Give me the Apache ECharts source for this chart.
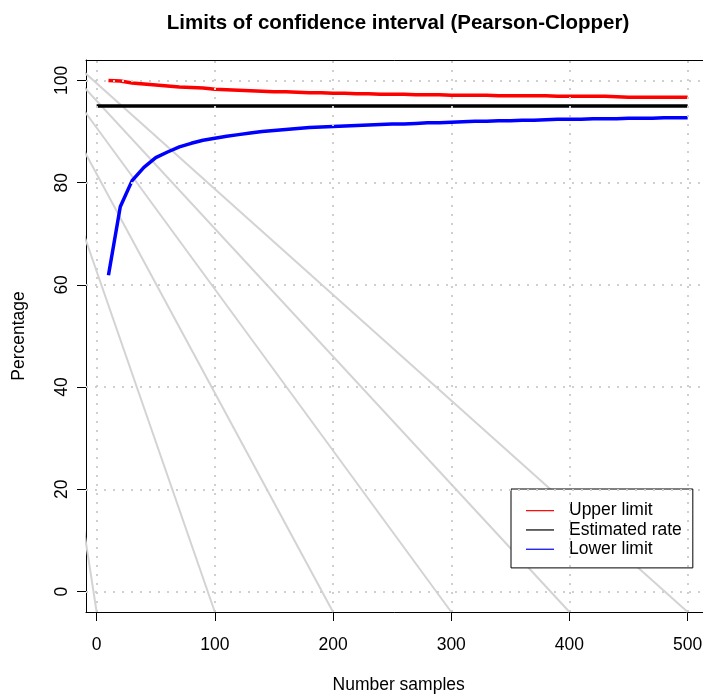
<!DOCTYPE html>
<html>
<head>
<meta charset="utf-8">
<script src="https://cdn.jsdelivr.net/npm/echarts@6/dist/echarts.min.js"></script>
<style>
  html, body { margin: 0; padding: 0; background: #fff; }
  #chart { width: 703px; height: 694px; }
</style>
</head>
<body>
<div id="chart"></div>
<script>
// Sample sizes and the Pearson-Clopper limits (percent) for an estimated rate of 95 %
const samples = [10, 20, 30, 40, 50, 60, 70, 80, 90, 100,
  110, 120, 130, 140, 150, 160, 170, 180, 190, 200,
  210, 220, 230, 240, 250, 260, 270, 280, 290, 300,
  310, 320, 330, 340, 350, 360, 370, 380, 390, 400,
  410, 420, 430, 440, 450, 460, 470, 480, 490, 500];
const upperLimit = [100.0, 99.9, 99.5, 99.3, 99.1, 98.9, 98.7, 98.6, 98.5, 98.3,
  98.2, 98.1, 98.0, 97.9, 97.8, 97.8, 97.7, 97.6, 97.6, 97.5,
  97.5, 97.4, 97.4, 97.3, 97.3, 97.3, 97.2, 97.2, 97.2, 97.1,
  97.1, 97.1, 97.1, 97.0, 97.0, 97.0, 97.0, 97.0, 96.9, 96.9,
  96.9, 96.9, 96.9, 96.8, 96.7, 96.7, 96.7, 96.7, 96.7, 96.7];
const lowerLimit = [61.9, 75.3, 80.4, 83.0, 84.9, 86.0, 87.0, 87.7, 88.3, 88.7,
  89.1, 89.4, 89.7, 90.0, 90.2, 90.4, 90.6, 90.8, 90.9, 91.0,
  91.1, 91.2, 91.3, 91.4, 91.5, 91.5, 91.6, 91.7, 91.7, 91.8,
  91.9, 92.0, 92.0, 92.1, 92.1, 92.2, 92.2, 92.3, 92.4, 92.4,
  92.4, 92.5, 92.5, 92.5, 92.6, 92.6, 92.6, 92.7, 92.7, 92.7];
const estimatedRate = 95;
const rateSpan = [0, 500];

// Background fan of light grey guide lines
const fanApex = [-80, 116];
const fanEnds = [0, 100, 200, 300, 400, 500];
const fanEndLevel = -4;

// Tick labels
const xTicks = [0, 100, 200, 300, 400, 500];
const yTicks = [0, 20, 40, 60, 80, 100];

const FONT = "'Liberation Sans', Arial, Helvetica, sans-serif";
const X_MIN = -9, X_MAX = 520;

const pairs = (xs, ys) => xs.map((x, i) => [x, ys[i]]);

const fanSeries = fanEnds.map(end => ({
  type: 'line',
  silent: true,
  showSymbol: false,
  z: 1,
  data: [fanApex, [end, fanEndLevel]],
  lineStyle: { color: '#d3d3d3', width: 2 },
  clip: true
}));

const dotted = { color: '#cfcfcf', width: 2, type: [2, 7], cap: 'butt' };
const black = { color: '#000', width: 1 };

const chart = echarts.init(document.getElementById('chart'), null, { renderer: 'canvas' });
chart.setOption({
  animation: false,
  backgroundColor: '#fff',
  textStyle: { fontFamily: FONT },
  title: {
    text: 'Limits of confidence interval (Pearson-Clopper)',
    left: 398,
    top: 13,
    padding: 0,
    textAlign: 'center',
    textStyle: { fontFamily: FONT, fontSize: 20.5, fontWeight: 'bold', color: '#000' }
  },
  // the frame runs past the right edge of the canvas
  grid: { left: 86, top: 60, width: 625.3, height: 552, outerBoundsMode: 'none', containLabel: false },
  legend: {
    orient: 'vertical',
    left: 511, top: 489,
    padding: [12, 11, 9, 15],
    itemWidth: 28, itemHeight: 1.2, itemGap: 0,
    icon: 'rect',
    backgroundColor: '#fff',
    borderColor: '#000', borderWidth: 1, borderRadius: 0,
    z: 3,
    selectedMode: false,
    data: ['Upper limit', 'Estimated rate', 'Lower limit'],
    textStyle: { fontFamily: FONT, fontSize: 17.5, color: '#000', lineHeight: 19.3, padding: [0, 0, 0, 10] }
  },
  xAxis: [
    {
      type: 'value', min: X_MIN, max: X_MAX, position: 'bottom',
      name: 'Number samples', nameLocation: 'middle', nameGap: 64,
      nameTextStyle: { fontFamily: FONT, fontSize: 17.5, color: '#000' },
      axisLine: { show: true, onZero: false, lineStyle: black },
      axisTick: { show: true, length: 9, customValues: xTicks, lineStyle: black },
      axisLabel: { customValues: xTicks, margin: 24, fontFamily: FONT, fontSize: 17.5, color: '#000' },
      splitLine: { show: false }
    },
    {
      // top edge of the plot frame
      type: 'value', min: X_MIN, max: X_MAX, position: 'top',
      axisLine: { show: true, onZero: false, lineStyle: black },
      axisTick: { show: false }, axisLabel: { show: false }, splitLine: { show: false }
    }
  ],
  yAxis: {
    type: 'value', min: -4, max: 104,
    name: 'Percentage', nameLocation: 'middle', nameGap: 58,
    nameTextStyle: { fontFamily: FONT, fontSize: 17.5, color: '#000' },
    axisLine: { show: true, onZero: false, lineStyle: black },
    axisTick: { show: true, length: 9, customValues: yTicks, lineStyle: black },
    axisLabel: { customValues: yTicks, rotate: 90, margin: 15, fontFamily: FONT, fontSize: 17.5, color: '#000' },
    splitLine: { show: false }
  },
  series: [
    ...fanSeries,
    {
      name: 'Upper limit', type: 'line', showSymbol: false, z: 2,
      color: '#ff0000',
      data: pairs(samples, upperLimit),
      lineStyle: { color: '#ff0000', width: 3.5 }
    },
    {
      name: 'Estimated rate', type: 'line', showSymbol: false, z: 2,
      color: '#000000',
      data: rateSpan.map(x => [x, estimatedRate]),
      lineStyle: { color: '#000000', width: 3.5 }
    },
    {
      name: 'Lower limit', type: 'line', showSymbol: false, z: 2,
      color: '#0000ff',
      data: pairs(samples, lowerLimit),
      lineStyle: { color: '#0000ff', width: 3.5 }
    },
    {
      // dotted reference grid drawn on top
      type: 'line', silent: true, z: 5, data: [],
      markLine: {
        silent: true, symbol: 'none', animation: false,
        label: { show: false },
        lineStyle: dotted,
        data: [
          ...xTicks.map(v => ({ xAxis: v })),
          ...yTicks.map(v => ({ yAxis: v }))
        ]
      }
    }
  ]
});
</script>
</body>
</html>
